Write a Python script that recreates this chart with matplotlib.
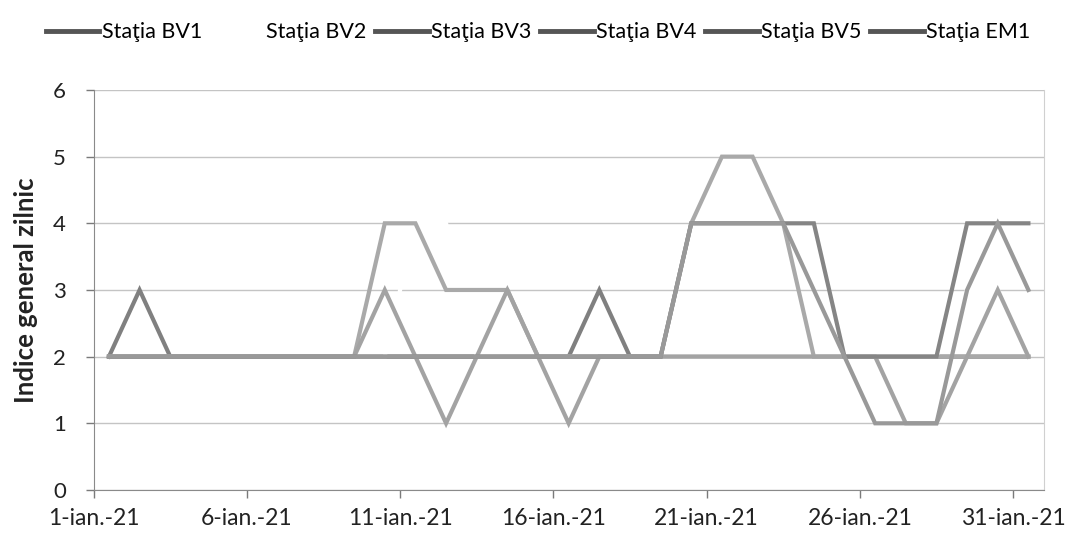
import numpy as np
import matplotlib.pyplot as plt

# zilele lunii ianuarie 2021
zile = np.arange(1, 32)

# indice general zilnic pe statii
bv1 = [2, 3, 2, 2, 2, 2, 2, 2, 2, 2, 2, 2, 2, 2, 2, 2, 3, 2, 2, 2, 2, 2, 2, 2, 2, 2, 2, 2, 2, 2, 2]
bv2 = [2, 2, 2, 2, 2, 2, 2, 2, 2, 2, 4, 4, 2, 2, 2, 2, 2, 2, 2, 2, 2, 2, 2, 2, 2, 2, 2, 2, 3, 3, 2]
bv3 = [2, 2, 2, 2, 2, 2, 2, 2, 2, 4, 4, 3, 3, 3, 2, 2, 2, 2, 2, 4, 5, 5, 4, 2, 2, 2, 2, 2, 2, 2, 2]
bv4 = [2, 2, 2, 2, 2, 2, 2, 2, 2, 3, 2, 1, 2, 3, 2, 1, 2, 2, 2, 2, 2, 2, 2, 2, 2, 2, 1, 1, 2, 3, 2]
bv5 = [2, 2, 2, 2, 2, 2, 2, 2, 2, 2, 2, 2, 2, 2, 2, 2, 2, 2, 2, 4, 4, 4, 4, 4, 2, 2, 2, 2, 4, 4, 4]
em1 = [2, 2, 2, 2, 2, 2, 2, 2, 2, 2, 2, 2, 2, 2, 2, 2, 2, 2, 2, 4, 4, 4, 4, 3, 2, 1, 1, 1, 3, 4, 3]

serii = [bv1, bv2, bv3, bv4, bv5, em1]
nume = ["Staţia BV1", "Staţia BV2", "Staţia BV3", "Staţia BV4", "Staţia BV5", "Staţia EM1"]
culori = ["#808080", "#ffffff", "#a9a9a9", "#a3a3a3", "#858585", "#999999"]

zile_eticheta = [1, 6, 11, 16, 21, 26, 31]
etichete_x = [f"{z}-ian.-21" for z in zile_eticheta]

plt.rcParams['font.family'] = ['Lato', 'DejaVu Sans']

fig = plt.figure(figsize=(10.76, 5.42), dpi=100)
ax = fig.add_axes([0.087, 0.096, 0.883, 0.738])

for s, n, c in zip(serii, nume, culori):
    ax.plot(zile, s, color=c, lw=3, label=n, solid_joinstyle='miter')

ax.set_xlim(0.5, 31.5)
ax.set_ylim(0, 6)
ax.set_yticks(range(0, 7))
ax.set_xticks([z - 0.5 for z in zile_eticheta])
ax.set_xticklabels(etichete_x)
ax.tick_params(axis='both', colors='#7a7a7a', labelcolor='#222222',
               length=6, width=1, direction='out')
ax.tick_params(axis='y', labelsize=16, pad=14)
ax.tick_params(axis='x', labelsize=16.5, pad=7)

ax.grid(axis='y', color='#c4c4c4', lw=1)
ax.set_axisbelow(True)
ax.spines['top'].set_visible(False)
ax.spines['left'].set_color('#8a8a8a')
ax.spines['bottom'].set_color('#8a8a8a')
ax.spines['right'].set_color('#d0d0d0')

ax.set_ylabel("Indice general zilnic", fontsize=18.5, fontweight='bold', color='#222222', labelpad=11)

leg_linii = [plt.Line2D([], [], color=('#ffffff' if c == '#ffffff' else '#555555'), lw=3.5) for c in culori]
fig.legend(leg_linii, nume, loc='upper center', bbox_to_anchor=(0.5, 0.995), ncol=6,
           frameon=False, fontsize=15.5, handlelength=2.5, handletextpad=0.1,
           columnspacing=0.4)

fig.savefig("out.png", dpi=100)
